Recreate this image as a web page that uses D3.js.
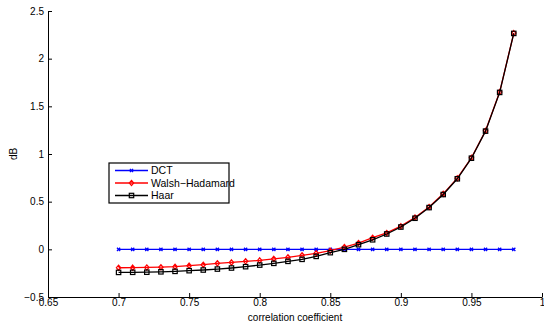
<!DOCTYPE html>
<html>
<head>
<meta charset="utf-8">
<script src="https://cdn.jsdelivr.net/npm/d3@7"></script>
<style>
  body { margin: 0; background: #fff; }
  text { font-family: "Liberation Sans", Arial, sans-serif; }
</style>
</head>
<body>
<svg id="chart" width="544" height="325"></svg>
<script>
const xValues = [0.70, 0.71, 0.72, 0.73, 0.74, 0.75, 0.76, 0.77, 0.78, 0.79,
                 0.80, 0.81, 0.82, 0.83, 0.84, 0.85, 0.86, 0.87, 0.88, 0.89,
                 0.90, 0.91, 0.92, 0.93, 0.94, 0.95, 0.96, 0.97, 0.98];
const dct = xValues.map(() => 0);
const walsh = [-0.193, -0.192, -0.190, -0.187, -0.182, -0.171, -0.161, -0.147, -0.137, -0.126,
               -0.116, -0.100, -0.084, -0.063, -0.042, -0.014, 0.024, 0.066, 0.122, 0.172,
               0.243, 0.334, 0.445, 0.582, 0.746, 0.960, 1.243, 1.650, 2.268];
const haar = [-0.242, -0.241, -0.240, -0.236, -0.231, -0.224, -0.217, -0.207, -0.196, -0.182,
              -0.165, -0.147, -0.126, -0.105, -0.074, -0.035, 0.000, 0.049, 0.100, 0.161,
              0.234, 0.326, 0.438, 0.575, 0.740, 0.956, 1.240, 1.646, 2.265];
const xTicks = [0.65, 0.7, 0.75, 0.8, 0.85, 0.9, 0.95, 1];
const yTicks = [-0.5, 0, 0.5, 1, 1.5, 2, 2.5];

const svg = d3.select("#chart");
const mLeft = 48, mRight = 542, mTop = 11, mBottom = 297;

const x = d3.scaleLinear().domain([0.65, 1]).range([mLeft, mRight]);
const y = d3.scaleLinear().domain([-0.5, 2.5]).range([mBottom, mTop]);

// axes (MATLAB style, ticks inward)
svg.append("g")
    .attr("transform", `translate(0,${mBottom})`)
    .call(d3.axisBottom(x).tickValues(xTicks).tickSizeInner(-4).tickSizeOuter(0).tickPadding(2)
        .tickFormat(d => String(+d.toFixed(2))))
    .call(g => g.select(".domain").attr("stroke", "#000"))
    .call(g => g.selectAll("text").attr("font-size", 10).attr("fill", "#000"));

svg.append("g")
    .attr("transform", `translate(${mLeft},0)`)
    .call(d3.axisLeft(y).tickValues(yTicks).tickSizeInner(-4).tickSizeOuter(0).tickPadding(4)
        .tickFormat(d => d < 0 ? "\u2212" + Math.abs(d) : d))
    .call(g => g.select(".domain").attr("stroke", "#000"))
    .call(g => g.selectAll("text").attr("font-size", 10).attr("fill", "#000"));

svg.append("text")
    .attr("x", x(0.825)).attr("y", 321)
    .attr("text-anchor", "middle").attr("font-size", 10)
    .text("correlation coefficient");

svg.append("text")
    .attr("transform", `translate(17,${y(1)}) rotate(-90)`)
    .attr("text-anchor", "middle").attr("font-size", 10)
    .text("dB");

const line = d3.line().x((d, i) => x(xValues[i])).y(d => y(d));

const series = [
    {name: "DCT", values: dct, color: "#0000ff", marker: "x"},
    {name: "Walsh\u2212Hadamard", values: walsh, color: "#ff0000", marker: "diamond"},
    {name: "Haar", values: haar, color: "#000000", marker: "square"}
];

function drawMarker(g, type, cx, cy, color) {
    if (type === "x") {
        g.append("path")
            .attr("d", `M${cx-1.6},${cy-1.6}L${cx+1.6},${cy+1.6}M${cx-1.6},${cy+1.6}L${cx+1.6},${cy-1.6}`)
            .attr("stroke", color).attr("stroke-width", 1.3).attr("fill", "none");
    } else if (type === "diamond") {
        g.append("path")
            .attr("d", `M${cx},${cy-2.6}L${cx+2.2},${cy}L${cx},${cy+2.6}L${cx-2.2},${cy}Z`)
            .attr("stroke", color).attr("stroke-width", 1.2).attr("fill", "none");
    } else {
        g.append("rect")
            .attr("x", cx - 2.2).attr("y", cy - 2.2).attr("width", 4.4).attr("height", 4.4)
            .attr("stroke", color).attr("stroke-width", 1.2).attr("fill", "none");
    }
}

series.forEach(s => {
    const g = svg.append("g");
    g.append("path")
        .attr("d", line(s.values))
        .attr("fill", "none").attr("stroke", s.color).attr("stroke-width", 1.3);
    s.values.forEach((v, i) => drawMarker(g, s.marker, x(xValues[i]), y(v), s.color));
});

// legend
const lg = svg.append("g");
lg.append("rect")
    .attr("x", 109).attr("y", 163).attr("width", 120).attr("height", 40)
    .attr("fill", "#fff").attr("stroke", "#000").attr("stroke-width", 1.2);
series.forEach((s, i) => {
    const ly = 170.5 + i * 12.5;
    lg.append("line")
        .attr("x1", 115).attr("x2", 148).attr("y1", ly).attr("y2", ly)
        .attr("stroke", s.color).attr("stroke-width", 1.3);
    drawMarker(lg, s.marker, 131.5, ly, s.color);
    lg.append("text")
        .attr("x", 151).attr("y", ly + 3.7)
        .attr("font-size", 10.5)
        .text(s.name);
});
</script>
</body>
</html>
